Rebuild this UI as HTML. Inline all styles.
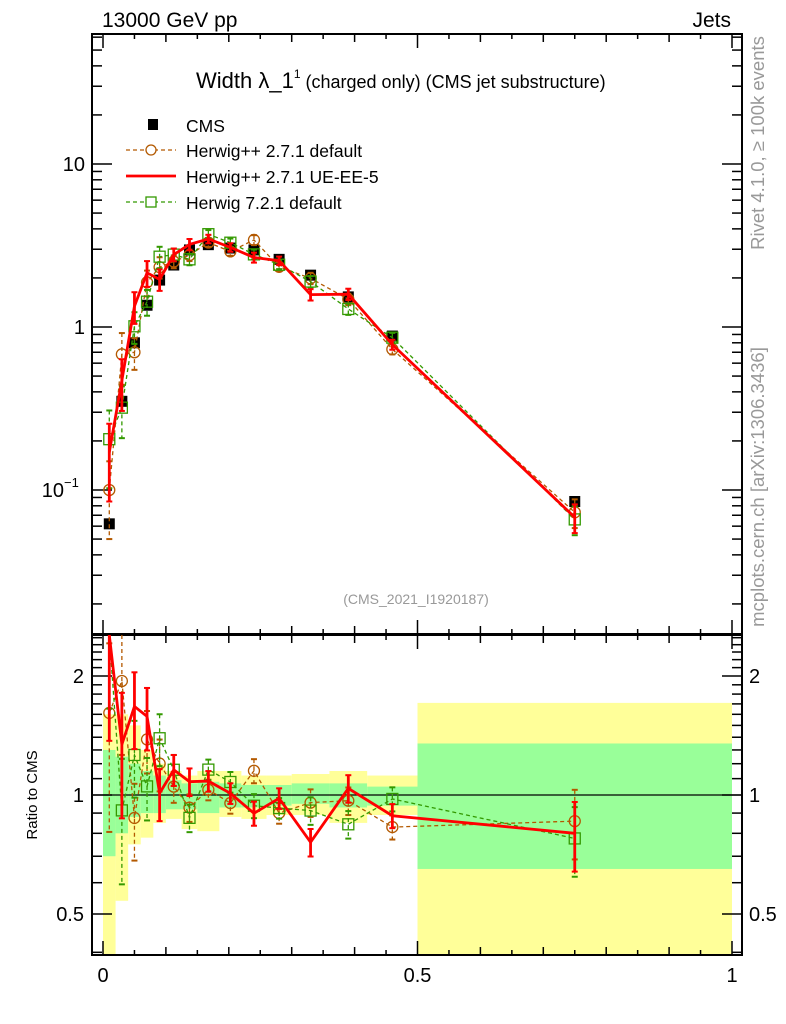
<!DOCTYPE html>
<html><head><meta charset="utf-8"><style>
body{margin:0;background:#fff;}
svg{display:block;font-family:"Liberation Sans",sans-serif;}
</style></head><body>
<svg id="c" width="786" height="1024" xmlns="http://www.w3.org/2000/svg"></svg>
<script>
const binEdges=[0,0.02,0.04,0.06,0.08,0.10,0.125,0.15,0.185,0.22,0.26,0.30,0.36,0.42,0.50,1.0];
const xCenters=[0.01,0.03,0.05,0.07,0.09,0.1125,0.1375,0.1675,0.2025,0.24,0.28,0.33,0.39,0.46,0.75];
const cmsVals=[0.062,0.35,0.80,1.36,1.94,2.4,2.97,3.2,3.05,2.97,2.6,2.08,1.53,0.88,0.085];
const hppDefault=[0.10,0.68,0.70,1.88,2.33,2.52,2.76,3.30,2.91,3.42,2.34,1.99,1.48,0.73,0.073];
const hppUE=[0.17,0.47,1.34,2.15,1.96,2.78,3.21,3.47,3.08,2.67,2.55,1.58,1.59,0.78,0.068];
const h721=[0.205,0.32,1.01,1.43,2.70,2.78,2.60,3.71,3.29,2.79,2.41,1.90,1.29,0.86,0.066];
const mcRelErr=[0.5,0.35,0.22,0.18,0.15,0.09,0.08,0.06,0.06,0.07,0.06,0.08,0.08,0.07,0.2];
const yellowUp=[1.6,1.6,1.5,1.3,1.2,1.15,1.12,1.15,1.15,1.12,1.12,1.13,1.15,1.12,1.71];
const yellowDn=[0.36,0.54,0.75,0.78,0.85,0.87,0.82,0.81,0.88,0.87,0.89,0.89,0.85,0.89,0.36];
const greenUp=[1.3,1.25,1.2,1.15,1.12,1.09,1.07,1.08,1.07,1.06,1.06,1.07,1.07,1.05,1.35];
const greenDn=[0.7,0.8,0.88,0.9,0.9,0.92,0.92,0.9,0.93,0.93,0.94,0.95,0.93,0.94,0.65];

const S=document.getElementById('c');const NS='http://www.w3.org/2000/svg';
function mk(t,a,p){const e=document.createElementNS(NS,t);for(const k in a)e.setAttribute(k,a[k]);(p||S).appendChild(e);return e;}
const L=92,R=742,X0=103,X1=732;
const MT=34,MB=634,RT=635,RB=955;
const xs=v=>X0+(X1-X0)*v;
const ys=v=>327-163*Math.log10(v);
const rs=v=>795-119*Math.log2(v);
const clipR=v=>Math.max(RT,Math.min(RB,rs(v)));
const clipM=v=>Math.max(MT,Math.min(MB,ys(v)));
function txt(x,y,s,o){const t=mk('text',Object.assign({x:x,y:y,'font-size':20},o||{}));t.textContent=s;return t;}

for(let i=0;i<15;i++){
 const x=xs(binEdges[i]),w=xs(binEdges[i+1])-x;
 let r=mk('rect',{x:x,y:clipR(yellowUp[i]),width:w,height:clipR(yellowDn[i])-clipR(yellowUp[i]),fill:'#ffff99'});
 
 
 r=mk('rect',{x:x,y:clipR(greenUp[i]),width:w,height:clipR(greenDn[i])-clipR(greenUp[i]),fill:'#99ff99'});
 
 
}
mk('line',{x1:L,x2:R,y1:rs(1),y2:rs(1),stroke:'#000','stroke-width':1.2});

mk('rect',{x:L,y:MT,width:R-L,height:MB-MT,fill:'none',stroke:'#000','stroke-width':2});
mk('rect',{x:L,y:RT,width:R-L,height:RB-RT,fill:'none',stroke:'#000','stroke-width':2});

function xticks(top,bot){
 for(let k=0;k<=20;k++){const v=k*0.05,x=xs(v);const len=(k%10==0)?14:(k%2==0?8:5);
  mk('line',{x1:x,x2:x,y1:bot,y2:bot-len,stroke:'#000','stroke-width':1.5});
  mk('line',{x1:x,x2:x,y1:top,y2:top+len,stroke:'#000','stroke-width':1.5});}
}
xticks(MT,MB);xticks(RT,RB);
[[0,'0'],[0.5,'0.5'],[1,'1']].forEach(a=>{const t=txt(xs(a[0]),982,a[1],{'text-anchor':'middle'});});

for(let d=-2;d<=1;d++)for(let m=1;m<=9;m++){const v=m*Math.pow(10,d),y=ys(v);if(y<MT||y>MB)continue;
 const len=m==1?20:10;
 mk('line',{x1:L,x2:L+len,y1:y,y2:y,stroke:'#000','stroke-width':1.5});
 mk('line',{x1:R,x2:R-len,y1:y,y2:y,stroke:'#000','stroke-width':1.5});}
txt(85,171,'10',{'text-anchor':'end'});
txt(85,334,'1',{'text-anchor':'end'});
txt(64,497,'10',{'text-anchor':'end'});
txt(64,487,'−1',{'font-size':13});

for(let v=0.4;v<=2.55;v+=0.1){const vv=Math.round(v*10)/10;const y=rs(vv);if(y<RT||y>RB)continue;
 const maj=(vv==0.5||vv==1||vv==2);const len=maj?20:10;
 mk('line',{x1:L,x2:L+len,y1:y,y2:y,stroke:'#000','stroke-width':1.5});
 mk('line',{x1:R,x2:R-len,y1:y,y2:y,stroke:'#000','stroke-width':1.5});}
[[2,'2'],[1,'1'],[0.5,'0.5']].forEach(a=>{txt(84,rs(a[0])+7,a[1],{'text-anchor':'end'});txt(749,rs(a[0])+7,a[1]);});

function drawSeries(vals,color,dash,marker,name){
 const g=mk('g',{});
 
 
 const w=marker=='line'?2.8:1.3;
 const da=dash?'4,3':'none';
 let pts=vals.map((v,i)=>xs(xCenters[i])+','+clipM(v)).join(' ');
 mk('polyline',{points:pts,fill:'none',stroke:color,'stroke-width':w,'stroke-dasharray':da},g);
 let rp=vals.map((v,i)=>xs(xCenters[i])+','+clipR(v/cmsVals[i])).join(' ');
 mk('polyline',{points:rp,fill:'none',stroke:color,'stroke-width':w,'stroke-dasharray':da},g);
 vals.forEach((v,i)=>{const x=xs(xCenters[i]);const e=mcRelErr[i];
  [[ys(v*(1+e)),ys(Math.max(v*(1-e),1e-3))],[rs(v/cmsVals[i]*(1+e)),rs(Math.max(v/cmsVals[i]*(1-e),1e-3))]].forEach((p,j)=>{
   const lo=j?RT:MT,hi=j?RB:MB;const a=Math.max(lo,p[0]),b=Math.min(hi,p[1]);
   mk('line',{x1:x,x2:x,y1:a,y2:b,stroke:color,'stroke-width':w,'stroke-dasharray':da},g);
   if(p[0]>=lo)mk('line',{x1:x-3,x2:x+3,y1:p[0],y2:p[0],stroke:color,'stroke-width':2},g);
   if(p[1]<=hi)mk('line',{x1:x-3,x2:x+3,y1:p[1],y2:p[1],stroke:color,'stroke-width':2},g);
   const yy=j?rs(v/cmsVals[i]):ys(v);
   if(yy<lo||yy>hi)return;
   if(marker=='circle')mk('circle',{cx:x,cy:yy,r:5.5,fill:'none',stroke:color,'stroke-width':1.3},g);
   if(marker=='square')mk('rect',{x:x-5.5,y:yy-5.5,width:11,height:11,fill:'none',stroke:color,'stroke-width':1.3},g);
  });
 });
}
const cg=mk('g',{});


cmsVals.forEach((v,i)=>{mk('rect',{x:xs(xCenters[i])-5.5,y:ys(v)-5.5,width:11,height:11,fill:'#000'},cg);});
drawSeries(hppDefault,'#b35900',true,'circle','herwigpp-default-series');
drawSeries(h721,'#339900',true,'square','herwig721-default-series');
drawSeries(hppUE,'#ff0000',false,'line','herwigpp-ue-ee5-series');

txt(102,27,'13000 GeV pp',{'font-size':21});
txt(731,27,'Jets',{'font-size':21,'text-anchor':'end'});
const tt=mk('text',{x:196,y:88,'font-size':22});

tt.innerHTML='Width λ_1<tspan font-size="12" dy="-10">1</tspan><tspan font-size="18" dy="10"> (charged only) (CMS jet substructure)</tspan>';
const lg=mk('g',{});


mk('rect',{x:148,y:119,width:10,height:11,fill:'#000'},lg);
txt(186,132,'CMS',{'font-size':17.5});
mk('line',{x1:126,x2:176,y1:150,y2:150,stroke:'#b35900','stroke-width':1.3,'stroke-dasharray':'4,3'},lg);
mk('circle',{cx:151,cy:150,r:5,fill:'#fff',stroke:'#b35900','stroke-width':1.3},lg);
txt(186,157,'Herwig++ 2.7.1 default',{'font-size':17.5});
mk('line',{x1:126,x2:176,y1:176,y2:176,stroke:'#ff0000','stroke-width':2.8},lg);
txt(186,183,'Herwig++ 2.7.1 UE-EE-5',{'font-size':17.5});
mk('line',{x1:126,x2:176,y1:202,y2:202,stroke:'#339900','stroke-width':1.3,'stroke-dasharray':'4,3'},lg);
mk('rect',{x:146,y:197,width:10,height:10,fill:'#fff',stroke:'#339900','stroke-width':1.3},lg);
txt(186,209,'Herwig 7.2.1 default',{'font-size':17.5});

txt(416,604,'(CMS_2021_I1920187)',{'font-size':14,fill:'#999','text-anchor':'middle'});
txt(0,0,'Ratio to CMS',{'font-size':15,'text-anchor':'middle',transform:'translate(37,795) rotate(-90)'});
txt(0,0,'Rivet 4.1.0, ≥ 100k events',{'font-size':18.5,fill:'#999','text-anchor':'middle',transform:'translate(764,143) rotate(-90)'});
txt(0,0,'mcplots.cern.ch [arXiv:1306.3436]',{'font-size':18.5,fill:'#999','text-anchor':'middle',transform:'translate(764,487) rotate(-90)'});
</script>
</body></html>
